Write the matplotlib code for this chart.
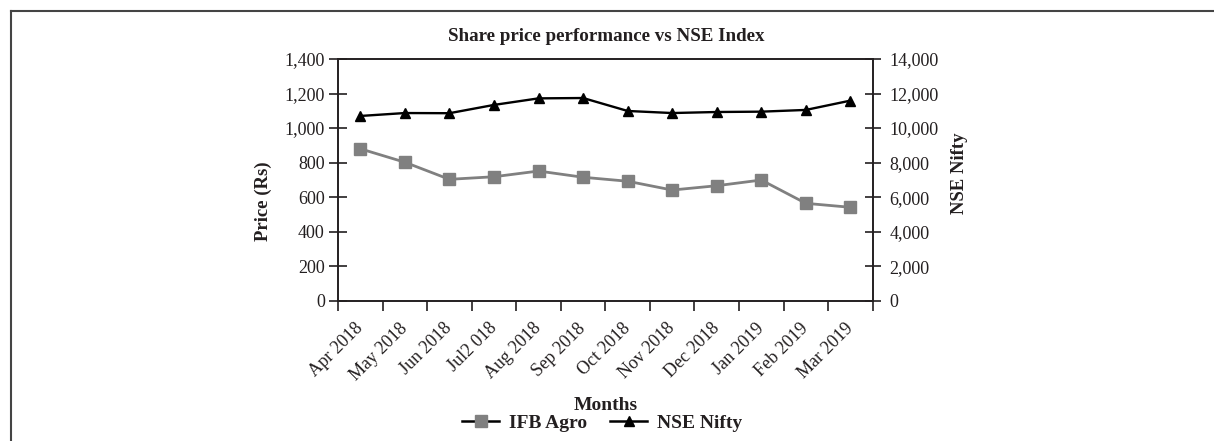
import matplotlib.pyplot as plt
from matplotlib.lines import Line2D
from matplotlib.ticker import FuncFormatter, FixedLocator

plt.rcParams["font.family"] = ["Liberation Serif", "DejaVu Serif"]

months = ["Apr 2018", "May 2018", "Jun 2018", "Jul2 018", "Aug 2018", "Sep 2018",
          "Oct 2018", "Nov 2018", "Dec 2018", "Jan 2019", "Feb 2019", "Mar 2019"]
ifb_agro = [880, 802, 703, 718, 751, 715, 692, 641, 666, 699, 564, 541]
nse_nifty = [10700, 10870, 10860, 11340, 11720, 11740, 10990, 10870, 10930, 10950, 11050, 11590]

txt = "#231f20"
gray = "#808080"
W, H = 1214, 441

fig = plt.figure(figsize=(12.14, 4.41), dpi=100)

# frame lines of the box
fig.add_artist(Line2D([10.5 / W, 10.5 / W], [0, 1 - 11 / H], color="#444444", lw=1.5))
fig.add_artist(Line2D([10.5 / W, 1], [1 - 11 / H, 1 - 11 / H], color="#444444", lw=1.5))

ax = fig.add_axes([338 / W, 1 - 300.7 / H, 534.7 / W, 241.7 / H])
ax2 = ax.twinx()

x = list(range(len(months)))
ax.plot(x, ifb_agro, color=gray, lw=2.0, marker="s", ms=8.5, zorder=3)
ax2.plot(x, nse_nifty, color="black", lw=1.7, marker="^", ms=7, zorder=3)

ax.set_xlim(-0.5, len(months) - 0.5)
ax.set_ylim(0, 1400)
ax2.set_ylim(0, 14000)
ax.set_yticks(range(0, 1401, 200))
ax2.set_yticks(range(0, 14001, 2000))
fmt = FuncFormatter(lambda v, p: f"{int(v):,}")
ax.yaxis.set_major_formatter(fmt)
ax2.yaxis.set_major_formatter(fmt)

ax.set_xticks(x)
ax.set_xticklabels(months, rotation=45, ha="right", va="center", rotation_mode="anchor",
                   fontsize=13, color=txt)
ax.xaxis.set_minor_locator(FixedLocator([i - 0.5 for i in range(len(months) + 1)]))
ax.tick_params(axis="x", which="major", length=0, pad=18)
ax.tick_params(axis="x", which="minor", length=7, width=1.2, direction="out", color=txt)
ax.tick_params(axis="y", length=13, width=1.2, direction="inout", pad=3, labelsize=13,
               labelcolor=txt, color=txt)
ax2.tick_params(axis="y", length=12, width=1.2, direction="inout", pad=6, labelsize=13,
                labelcolor=txt, color=txt)

for a in (ax, ax2):
    for s in a.spines.values():
        s.set_linewidth(1.2)
        s.set_color(txt)

fig.text(263 / W, 1 - 201 / H, "Price (Rs)", rotation=90, ha="center", va="center",
         fontsize=13.5, fontweight="bold", color=txt)
fig.text(960 / W, 1 - 173 / H, "NSE Nifty", rotation=90, ha="center", va="center",
         fontsize=13.5, fontweight="bold", color=txt)
fig.text(606 / W, 1 - 41 / H, "Share price performance vs NSE Index",
         ha="center", va="baseline", fontsize=13.7, fontweight="bold", color=txt)
fig.text(606 / W, 1 - 405 / H, "Months", ha="center", va="center",
         fontsize=14, fontweight="bold", color=txt)

handles = [
    Line2D([], [], color="black", lw=1.8, marker="s", ms=8.5, mfc=gray, mec=gray),
    Line2D([], [], color="black", lw=1.8, marker="^", ms=7, mfc="black", mec="black"),
]
fig.legend(handles, ["IFB Agro", "NSE Nifty"], loc="center", bbox_to_anchor=(602 / W, 1 - 423 / H),
           ncol=2, frameon=False, handlelength=1.9, columnspacing=1.2, handletextpad=0.5,
           prop={"size": 14, "weight": "bold"}, labelcolor=txt)

fig.savefig("out.png", dpi=100)
